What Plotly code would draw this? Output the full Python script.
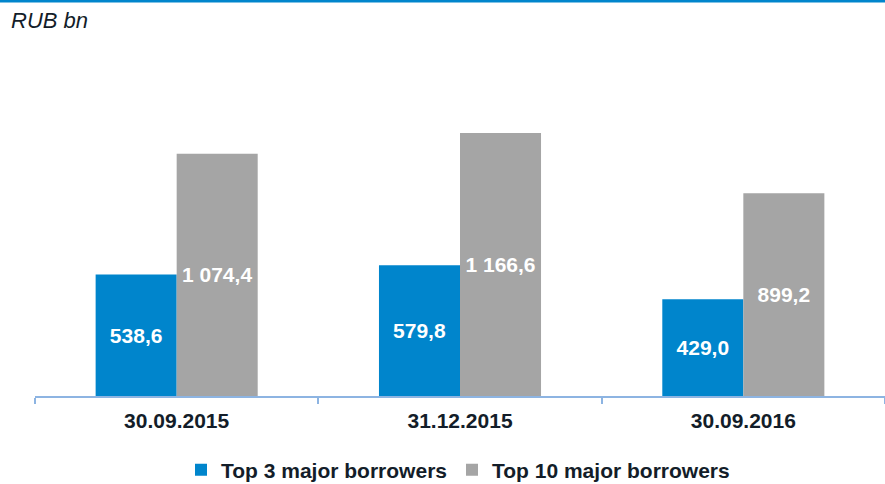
import plotly.graph_objects as go

categories = ["30.09.2015", "31.12.2015", "30.09.2016"]
top3 = [538.6, 579.8, 429.0]
top10 = [1074.4, 1166.6, 899.2]
series_names = ["Top 3 major borrowers", "Top 10 major borrowers"]
unit_label = "RUB bn"

BLUE = "#0085CC"
GRAY = "#A5A5A5"
TEXT = "#131d29"
FONT = "Liberation Sans, Arial, sans-serif"


def fmt(v):
    return f"{v:,.1f}".replace(",", " ").replace(".", ",")


W, H = 885, 484
ml, mr, mt, mb = 35, 0, 40, 88
ph = H - mt - mb
pw = W - ml - mr

fig = go.Figure()
for name, vals, col in [(series_names[0], top3, BLUE), (series_names[1], top10, GRAY)]:
    fig.add_trace(go.Bar(
        x=categories, y=vals, name=name, marker=dict(color=col, line=dict(width=0)),
        text=[fmt(v) for v in vals], textposition="inside", insidetextanchor="middle",
        textangle=0, constraintext="none",
        textfont=dict(family=FONT, size=21, color="white", weight="bold"),
        hoverinfo="skip",
    ))

fig.update_layout(
    width=W, height=H,
    margin=dict(l=ml, r=mr, t=mt, b=mb, pad=0, autoexpand=False),
    paper_bgcolor="white", plot_bgcolor="white",
    barmode="group", bargap=0.428, bargroupgap=0,
    showlegend=True,
    legend=dict(orientation="h", x=(458 - ml) / pw, xanchor="center",
                y=-(470 - (H - mb)) / ph, yanchor="middle",
                font=dict(family=FONT, size=21, color=TEXT, weight="bold"),
                itemwidth=30, traceorder="normal"),
    xaxis=dict(showline=True, linecolor="#8DB4E2", linewidth=2,
               ticks="outside", ticklen=6, tickwidth=2, tickcolor="#8DB4E2",
               tickson="boundaries", showgrid=False, zeroline=False,
               ticklabelstandoff=5, automargin=False,
               tickfont=dict(family=FONT, size=21, color=TEXT, weight="bold"),
               range=[-0.5, 2.5]),
    yaxis=dict(visible=False, range=[0, ph / 0.2254], showgrid=False, zeroline=False),
    shapes=[dict(type="line", xref="paper", yref="paper",
                 x0=-ml / pw, x1=1, y0=(H - mb - 1) / ph, y1=(H - mb - 1) / ph,
                 line=dict(color=BLUE, width=3))],
    annotations=[dict(text=f"<i>{unit_label}</i>", xref="paper", yref="paper",
                      x=(9 - ml) / pw, y=(H - mb - 21) / ph, xanchor="left", yanchor="middle",
                      showarrow=False, font=dict(family=FONT, size=22, color=TEXT))],
)

fig.write_html("out.html")
